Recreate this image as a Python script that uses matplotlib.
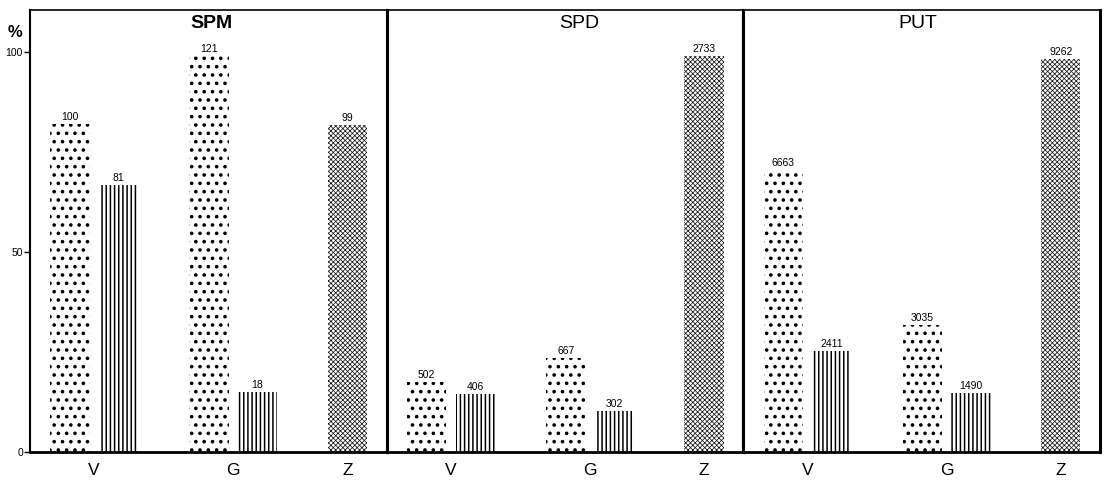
import matplotlib
matplotlib.use("Agg")
import matplotlib.pyplot as plt

plt.rcParams["font.family"] = ["Liberation Sans", "DejaVu Sans"]

# ===============================
# DATA (heights in %, labels are the printed counts)
# ===============================
panels = ["SPM", "SPD", "PUT"]
categories = ["V", "G", "Z"]

dotted_pct = [[82.0, 99.0], [17.5, 23.5], [70.5, 31.75]]
lined_pct = [[66.75, 15.0], [14.5, 10.25], [25.25, 14.75]]
z_pct = [81.75, 99.0, 98.25]

dotted_labels = [["100", "121"], ["502", "667"], ["6663", "3035"]]
lined_labels = [["81", "18"], ["406", "302"], ["2411", "1490"]]
z_labels = ["99", "2733", "9262"]

# layout (x units per panel: 0..10)
group_x = [1.8, 5.7, 8.9]
offset = 0.68
width = 1.1
title_x = [5.1, 5.4, 4.9]

fig = plt.figure(figsize=(11.05, 4.84), dpi=100)
gs = fig.add_gridspec(1, 3, left=30 / 1105, right=1100 / 1105,
                      bottom=32 / 484, top=474 / 484, wspace=0)
axes = [fig.add_subplot(gs[0, i]) for i in range(3)]


def labelled_bar(ax, x, h, text, hatch, hlw, color="black"):
    with plt.rc_context({"hatch.linewidth": hlw}):
        ax.bar(x, h, width=width, color="white", edgecolor=color,
               linewidth=0, hatch=hatch)
    ax.text(x, h + 0.5, text, ha="center", va="bottom", fontsize=7.5)


for p, ax in enumerate(axes):
    for g in range(2):
        labelled_bar(ax, group_x[g] - offset, dotted_pct[p][g],
                     dotted_labels[p][g], "..", 1.4)
        labelled_bar(ax, group_x[g] + offset, lined_pct[p][g],
                     lined_labels[p][g], "||||", 1.1)
    labelled_bar(ax, group_x[2], z_pct[p], z_labels[p], "xxxxxxx", 0.55,
                 color="#1a1a1a")

    ax.set_xlim(0, 10)
    ax.set_ylim(0, 110.5)
    ax.set_xticks(group_x)
    ax.set_xticklabels(categories, fontsize=12.5)
    ax.tick_params(axis="x", length=0, pad=8)

    weight = "bold" if p == 0 else "normal"
    ax.text(title_x[p], 107.0, panels[p], ha="center", va="center",
            fontsize=14, fontweight=weight)

    ax.spines["bottom"].set_linewidth(2.0)
    ax.spines["top"].set_linewidth(1.2)
    ax.spines["right"].set_linewidth(2.2)
    ax.spines["left"].set_linewidth(2.2)

    if p == 0:
        ax.set_yticks([0, 50, 100])
        ax.set_yticklabels(["0", "50", "100"], fontsize=7.5)
        ax.tick_params(axis="y", length=4, width=1, pad=1)
        ax.spines["left"].set_linewidth(1.5)
        ax.text(-0.42, 104.8, "%", ha="center", va="center",
                fontsize=12, fontweight="bold")
    else:
        ax.set_yticks([])

plt.savefig("out.png", dpi=100)
plt.close()
